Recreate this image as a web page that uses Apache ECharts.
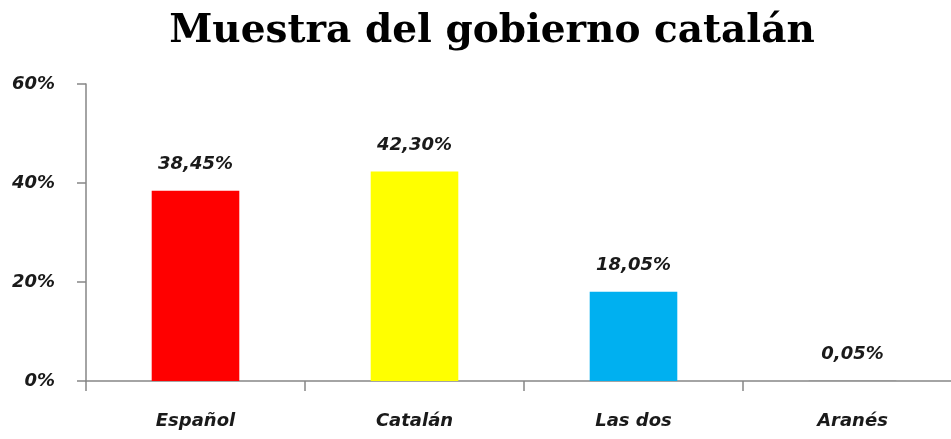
<!DOCTYPE html>
<html>
<head>
<meta charset="utf-8">
<script src="https://cdn.jsdelivr.net/npm/echarts@6/dist/echarts.min.js"></script>
<style>
  html, body { margin: 0; padding: 0; background: #fff; }
  #chart { width: 951px; height: 439px; }
</style>
</head>
<body>
<div id="chart"></div>
<script>
const categories = ['Español', 'Catalán', 'Las dos', 'Aranés'];
const values = [38.45, 42.30, 18.05, 0.05];
const barColors = ['#FF0000', '#FFFF00', '#00B0F0', '#7F7F7F'];

const chart = echarts.init(document.getElementById('chart'));

const labelFont = {
  fontFamily: 'DejaVu Sans',
  fontWeight: 'bold',
  fontStyle: 'italic',
  fontSize: 18,
  color: '#1a1a1a'
};

chart.setOption({
  animation: false,
  title: {
    text: 'Muestra del gobierno catalán',
    left: 487,
    top: 7,
    textAlign: 'center',
    textStyle: {
      fontFamily: 'DejaVu Serif',
      fontWeight: 'bold',
      fontSize: 39,
      color: '#000'
    }
  },
  grid: { left: 86, top: 84, width: 876, bottom: 58, outerBoundsMode: 'none' },
  xAxis: {
    type: 'category',
    data: categories,
    axisLine: { lineStyle: { color: '#868686', width: 1.5 } },
    axisTick: { show: true, length: 10, alignWithLabel: false, lineStyle: { color: '#868686', width: 1.5 } },
    axisLabel: Object.assign({ margin: 31 }, labelFont)
  },
  yAxis: {
    type: 'value',
    min: 0,
    max: 60,
    interval: 20,
    splitLine: { show: false },
    axisLine: { show: true, lineStyle: { color: '#868686', width: 1.5 } },
    axisTick: { show: true, length: 9, lineStyle: { color: '#868686', width: 1.5 } },
    axisLabel: Object.assign({ margin: 31, formatter: '{value}%' }, labelFont)
  },
  series: [{
    type: 'bar',
    barWidth: '40%',
    data: values.map((v, i) => ({ value: v, itemStyle: { color: barColors[i] } })),
    label: Object.assign({
      show: true,
      position: 'top',
      distance: 17,
      formatter: p => p.value.toFixed(2).replace('.', ',') + '%'
    }, labelFont)
  }]
});
</script>
</body>
</html>
